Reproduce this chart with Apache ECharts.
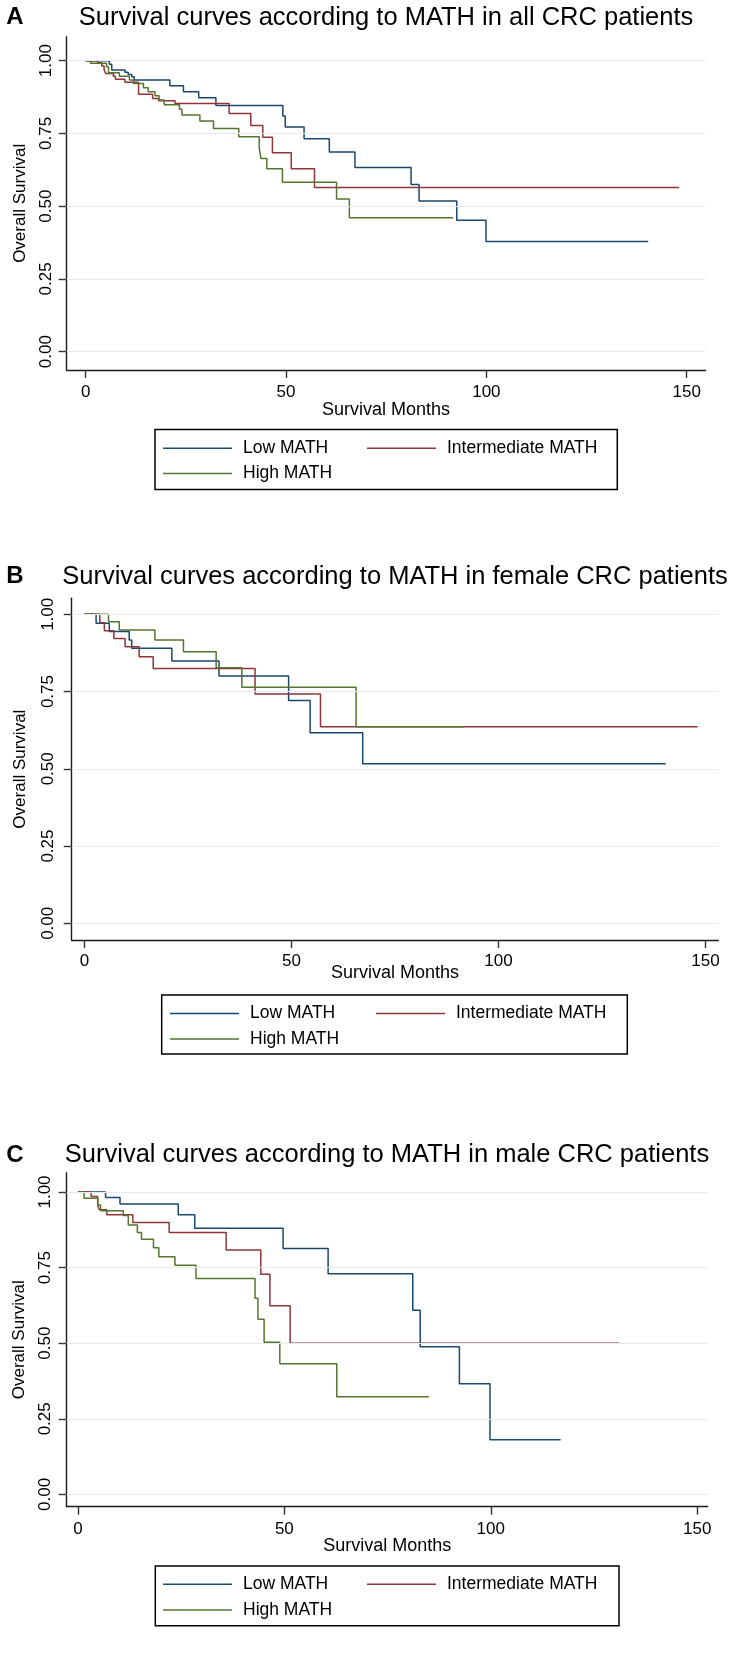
<!DOCTYPE html>
<html>
<head>
<meta charset="utf-8">
<title>Survival curves according to MATH</title>
<script src="https://cdn.jsdelivr.net/npm/echarts@6/dist/echarts.min.js"></script>
<style>
  html, body { margin: 0; padding: 0; background: #fff; }
  #chart { width: 730px; height: 1654px; }
</style>
</head>
<body>
<div id="chart"></div>
<script>
// tick values shared by the three panels
const xTicks = [0, 50, 100, 150];
const yTicks = [0, 0.25, 0.5, 0.75, 1];

const groups = ['Low MATH', 'Intermediate MATH', 'High MATH'];
const colors = ['#1a476f', '#90353b', '#55752f'];

const panelTitles = [
  'Survival curves according to MATH in all CRC patients',
  'Survival curves according to MATH in female CRC patients',
  'Survival curves according to MATH in male CRC patients'
];
const panelLetters = ['A', 'B', 'C'];

// [month, overall survival] at each step
// A: all CRC patients
const allLow = [[0, 1], [5.9, 0.988], [6.5, 0.968], [9.8, 0.960], [10.6, 0.953], [11.5, 0.945], [12.1, 0.934],
  [21.0, 0.914], [24.4, 0.893], [28.2, 0.873], [32.5, 0.846], [49.2, 0.810], [49.8, 0.772], [54.5, 0.732],
  [60.8, 0.686], [67.2, 0.633], [81.2, 0.575], [83.2, 0.518], [92.6, 0.452], [99.9, 0.379], [140.4, 0.379]];
const allInt = [[0, 1], [3.0, 0.993], [4.0, 0.982], [4.6, 0.968], [5.0, 0.956], [6.9, 0.947], [7.4, 0.936],
  [9.8, 0.926], [13.2, 0.885], [16.7, 0.870], [18.2, 0.862], [22.3, 0.853], [35.8, 0.819], [41.2, 0.777],
  [44.2, 0.737], [46.6, 0.684], [51.3, 0.629], [57.1, 0.564], [148.1, 0.564]];
const allHigh = [[0, 1], [1.2, 0.991], [5.2, 0.979], [5.7, 0.959], [8.4, 0.947], [10.9, 0.934], [11.9, 0.922],
  [14.4, 0.907], [15.6, 0.893], [17.3, 0.880], [18.3, 0.865], [19.6, 0.849], [23.4, 0.833], [24.0, 0.813],
  [28.5, 0.793], [31.9, 0.767], [38.2, 0.739], [43.3, 0.702], [43.7, 0.664], [45.2, 0.629], [49.1, 0.582],
  [62.6, 0.525], [65.8, 0.460], [91.7, 0.460]];

// B: female CRC patients
const femLow = [[0, 1], [2.8, 0.971], [6.0, 0.944], [10.8, 0.917], [11.4, 0.890], [21.1, 0.849], [32.5, 0.800],
  [49.3, 0.721], [54.5, 0.617], [67.2, 0.516], [140.4, 0.516]];
const femInt = [[0, 1], [3.7, 0.973], [4.8, 0.947], [7.1, 0.922], [9.8, 0.895], [13.2, 0.863], [16.6, 0.825],
  [41.2, 0.742], [57.0, 0.636], [148.1, 0.636]];
const femHigh = [[0, 1], [5.8, 0.976], [8.4, 0.949], [17.0, 0.917], [23.9, 0.879], [31.8, 0.827], [38.0, 0.764],
  [65.6, 0.636], [91.7, 0.636]];

// C: male CRC patients
const maleLow = [[0, 1], [6.7, 0.982], [10.2, 0.960], [24.3, 0.925], [28.3, 0.880], [49.7, 0.813], [60.6, 0.730],
  [81.1, 0.609], [82.9, 0.488], [92.4, 0.366], [99.8, 0.181], [116.9, 0.181]];
const maleInt = [[0, 1], [3.2, 0.985], [4.8, 0.956], [5.2, 0.941], [7.0, 0.925], [13.3, 0.899], [22.1, 0.866],
  [35.9, 0.808], [44.3, 0.728], [46.5, 0.624], [51.4, 0.500], [131.2, 0.500]];
const maleHigh = [[0, 1], [1.5, 0.979], [4.8, 0.957], [5.5, 0.938], [11.0, 0.922], [12.2, 0.891], [14.4, 0.866],
  [15.4, 0.844], [18.3, 0.816], [19.6, 0.786], [23.5, 0.758], [28.6, 0.714], [42.9, 0.649], [43.6, 0.579],
  [45.1, 0.503], [48.9, 0.432], [62.7, 0.323], [85.0, 0.323]];

const curves = [
  [allLow, allInt, allHigh],
  [femLow, femInt, femHigh],
  [maleLow, maleInt, maleHigh]
];

// layout of each exported panel (pixels)
const layouts = [
  { grid: { left: 66.7, top: 36.7, width: 638.8, height: 333.3 },
    xRange: [-4.74, 154.68], yRange: [-0.0629, 1.0825],
    xLabelMargin: 14, xNameGap: 31, yLabelMargin: 12, yNameGap: 38,
    title: [386, 18], letter: [15, 17],
    legendBox: [155, 429.5, 462.3, 60], cols: [163, 367], rows: [448.3, 473.5] },
  { grid: { left: 71.7, top: 598.3, width: 646.6, height: 341.7 },
    xRange: [-3.09, 153.09], yRange: [-0.054, 1.0518],
    xLabelMargin: 13, xNameGap: 24, yLabelMargin: 14.5, yNameGap: 43,
    title: [395, 577], letter: [15, 576],
    legendBox: [161.7, 995, 465.6, 59], cols: [170, 376], rows: [1013.5, 1039] },
  { grid: { left: 66.7, top: 1172.7, width: 641, height: 334 },
    xRange: [-2.71, 152.53], yRange: [-0.0407, 1.0638],
    xLabelMargin: 14, xNameGap: 30, yLabelMargin: 12.5, yNameGap: 39,
    title: [387, 1155], letter: [15, 1155],
    legendBox: [155.3, 1566, 463.7, 59.7], cols: [163, 367], rows: [1584.3, 1610] }
];

const FONT = "'Liberation Sans', Arial, sans-serif";

const chart = echarts.init(document.getElementById('chart'), null, { renderer: 'canvas' });

const grids = [];
const xAxes = [];
const yAxes = [];
const series = [];
const legends = [];
const graphics = [];

layouts.forEach((lay, p) => {
  grids.push(Object.assign({ outerBoundsMode: 'none', containLabel: false }, lay.grid));

  xAxes.push({
    type: 'value',
    gridIndex: p,
    min: lay.xRange[0],
    max: lay.xRange[1],
    name: 'Survival Months',
    nameLocation: 'middle',
    nameGap: lay.xNameGap,
    nameMoveOverlap: false,
    nameTextStyle: { fontFamily: FONT, fontSize: 18, color: '#000' },
    axisLine: { show: true, onZero: false, lineStyle: { color: '#1a1a1a', width: 1.4 } },
    axisTick: { show: true, customValues: xTicks, length: 8, lineStyle: { color: '#333', width: 1.4 } },
    axisLabel: { show: true, customValues: xTicks, margin: lay.xLabelMargin,
      fontFamily: FONT, fontSize: 17, color: '#000' },
    splitLine: { show: false }
  });

  yAxes.push({
    type: 'value',
    gridIndex: p,
    min: lay.yRange[0],
    max: lay.yRange[1],
    name: 'Overall Survival',
    nameLocation: 'middle',
    nameRotate: 90,
    nameGap: lay.yNameGap,
    nameMoveOverlap: false,
    nameTextStyle: { fontFamily: FONT, fontSize: 17, color: '#000' },
    axisLine: { show: true, onZero: false, lineStyle: { color: '#1a1a1a', width: 1.4 } },
    axisTick: { show: true, customValues: yTicks, length: 8, lineStyle: { color: '#333', width: 1.4 } },
    axisLabel: { show: true, customValues: yTicks, rotate: 90, margin: lay.yLabelMargin,
      fontFamily: FONT, fontSize: 17, color: '#000',
      formatter: v => v.toFixed(2) },
    splitLine: { show: false }
  });

  // horizontal grid lines at the y ticks, under the curves
  series.push({
    name: 'grid' + p,
    type: 'line',
    xAxisIndex: p,
    yAxisIndex: p,
    data: [[0, 0]],
    showSymbol: false,
    symbol: 'none',
    lineStyle: { opacity: 0 },
    silent: true,
    markLine: {
      silent: true,
      symbol: ['none', 'none'],
      label: { show: false },
      lineStyle: { color: '#e3ebf0', width: 1.2, type: 'solid' },
      data: yTicks.map(v => ({ yAxis: v }))
    }
  });

  curves[p].forEach((data, g) => {
    series.push({
      name: groups[g],
      type: 'line',
      xAxisIndex: p,
      yAxisIndex: p,
      step: 'end',
      symbol: 'none',
      showSymbol: false,
      data: data,
      color: colors[g],
      lineStyle: { color: colors[g], width: 1.5 }
    });
  });

  // legend: one component per entry so the columns line up like the original
  const slots = [[lay.cols[0], lay.rows[0]], [lay.cols[1], lay.rows[0]], [lay.cols[0], lay.rows[1]]];
  groups.forEach((name, g) => {
    legends.push({
      data: [name],
      left: slots[g][0],
      top: slots[g][1] - 10,
      padding: 0,
      icon: 'rect',
      itemWidth: 69,
      itemHeight: 1.5,
      selectedMode: false,
      textStyle: { fontFamily: FONT, fontSize: 17.5, color: '#000', lineHeight: 20, padding: [0, 0, 0, 6] }
    });
  });

  const b = lay.legendBox;
  graphics.push({
    type: 'rect',
    shape: { x: b[0], y: b[1], width: b[2], height: b[3] },
    style: { fill: 'none', stroke: '#000', lineWidth: 1.5 },
    silent: true
  });
  graphics.push({
    type: 'text',
    x: lay.title[0],
    y: lay.title[1],
    style: { text: panelTitles[p], font: '25.5px ' + FONT, fill: '#000',
      textAlign: 'center', textVerticalAlign: 'middle' },
    silent: true
  });
  graphics.push({
    type: 'text',
    x: lay.letter[0],
    y: lay.letter[1],
    style: { text: panelLetters[p], font: 'bold 24px ' + FONT, fill: '#000',
      textAlign: 'center', textVerticalAlign: 'middle' },
    silent: true
  });
});

chart.setOption({
  animation: false,
  backgroundColor: '#fff',
  grid: grids,
  xAxis: xAxes,
  yAxis: yAxes,
  legend: legends,
  graphic: graphics,
  series: series
});

window.addEventListener('resize', () => chart.resize());
</script>
</body>
</html>
